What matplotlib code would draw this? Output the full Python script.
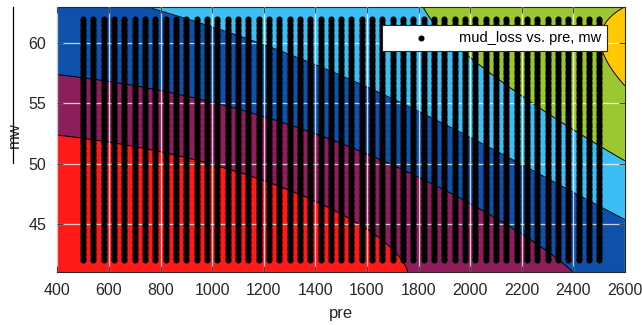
import numpy as np
import matplotlib
matplotlib.use("Agg")
import matplotlib.pyplot as plt
from matplotlib.lines import Line2D

plt.rcParams['font.family'] = ['Liberation Sans', 'DejaVu Sans']

# sampled operating points
pre_values = [500, 540, 580, 620, 660, 700, 740, 780, 820, 860, 900, 940, 980,
              1020, 1060, 1100, 1140, 1180, 1220, 1260, 1300, 1340, 1380, 1420,
              1460, 1500, 1540, 1580, 1620, 1660, 1700, 1740, 1780, 1820, 1860,
              1900, 1940, 1980, 2020, 2060, 2100, 2140, 2180, 2220, 2260, 2300,
              2340, 2380, 2420, 2460, 2500]
mw_values = [42.0, 42.2, 42.4, 42.6, 42.8, 43.0, 43.2, 43.4, 43.6, 43.8,
             44.0, 44.2, 44.4, 44.6, 44.8, 45.0, 45.2, 45.4, 45.6, 45.8,
             46.0, 46.2, 46.4, 46.6, 46.8, 47.0, 47.2, 47.4, 47.6, 47.8,
             48.0, 48.2, 48.4, 48.6, 48.8, 49.0, 49.2, 49.4, 49.6, 49.8,
             50.0, 50.2, 50.4, 50.6, 50.8, 51.0, 51.2, 51.4, 51.6, 51.8,
             52.0, 52.2, 52.4, 52.6, 52.8, 53.0, 53.2, 53.4, 53.6, 53.8,
             54.0, 54.2, 54.4, 54.6, 54.8, 55.0, 55.2, 55.4, 55.6, 55.8,
             56.0, 56.2, 56.4, 56.6, 56.8, 57.0, 57.2, 57.4, 57.6, 57.8,
             58.0, 58.2, 58.4, 58.6, 58.8, 59.0, 59.2, 59.4, 59.6, 59.8,
             60.0, 60.2, 60.4, 60.6, 60.8, 61.0, 61.2, 61.4, 61.6, 61.8, 62.0]

# poly44 response surface for mud_loss, x = (pre-1500)/600, y = (mw-52)/6
fit_terms = ['1', 'x', 'y', 'x^2', 'xy', 'y^2', 'x^3', 'x^2y', 'xy^2', 'y^3',
             'x^4', 'x^3y', 'x^2y^2', 'xy^3', 'y^4']
fit_coef = [2.06244, 0.94185, 1.12862, 0.17728, -0.03775, -0.00357, -0.00238,
            0.0212, -0.0494, -0.08891, -0.00225, -0.00351, -0.03912, -0.01248,
            0.00639]
contour_levels = [1, 2, 3, 4, 5]
band_colors = ['#FF1A1A', '#8C1E5A', '#0F50AA', '#3CBEF5', '#9BC832', '#FFC800']


def mud_loss(pre, mw):
    x = (pre - 1500) / 600.0
    y = (mw - 52) / 6.0
    basis = [np.ones_like(x), x, y, x**2, x*y, y**2, x**3, x**2*y, x*y**2, y**3,
             x**4, x**3*y, x**2*y**2, x*y**3, y**4]
    return sum(c * b for c, b in zip(fit_coef, basis))


fig = plt.figure(figsize=(6.42, 3.25), dpi=100)
ax = fig.add_axes([57.3 / 642, 1 - 272 / 325, (625 - 57.3) / 642, 265 / 325])

gp, gm = np.meshgrid(np.linspace(400, 2600, 400), np.linspace(41, 63, 400))
gz = mud_loss(gp, gm)
ax.contourf(gp, gm, gz, levels=[gz.min() - 1] + contour_levels + [gz.max() + 1],
            colors=band_colors, zorder=1)
ax.contour(gp, gm, gz, levels=contour_levels, colors='k', linewidths=0.7, zorder=2)

pp, mm = np.meshgrid(pre_values, mw_values)
ax.scatter(pp.ravel(), mm.ravel(), s=19, c='k', linewidths=0, zorder=3,
           label='mud_loss vs. pre, mw')

ax.set_xlim(400, 2600)
ax.set_ylim(41, 63)
ax.set_xticks(range(400, 2601, 200))
ax.set_yticks([45, 50, 55, 60])
ax.grid(True, color='white', linewidth=0.9, alpha=0.75, zorder=4)
ax.set_axisbelow(False)
ax.tick_params(direction='in', top=True, right=True, length=4, width=0.6,
               color='#262626', labelsize=11.5, labelcolor='#262626', pad=8)
for sp in ax.spines.values():
    sp.set_color('#262626')
    sp.set_linewidth(0.8)

ax.set_xlabel('pre', fontsize=12, color='#262626', labelpad=6)
ax.set_ylabel('mw', fontsize=12, color='#262626')
ax.yaxis.set_label_coords(-0.062, 0.517)

leg = ax.legend(loc='upper right', bbox_to_anchor=(0.968, 0.932), borderaxespad=0,
                fontsize=10.5, frameon=True, fancybox=False, edgecolor='#262626',
                handlelength=4.5, handletextpad=0.35, borderpad=0.4)
leg.get_frame().set_linewidth(0.8)
leg.get_frame().set_alpha(1)
leg.set_zorder(6)

fig.add_artist(Line2D([13 / 642, 13 / 642], [1 - 7 / 325, 1 - 163 / 325],
                      color='k', linewidth=0.9))

fig.savefig('out.png', dpi=100)
